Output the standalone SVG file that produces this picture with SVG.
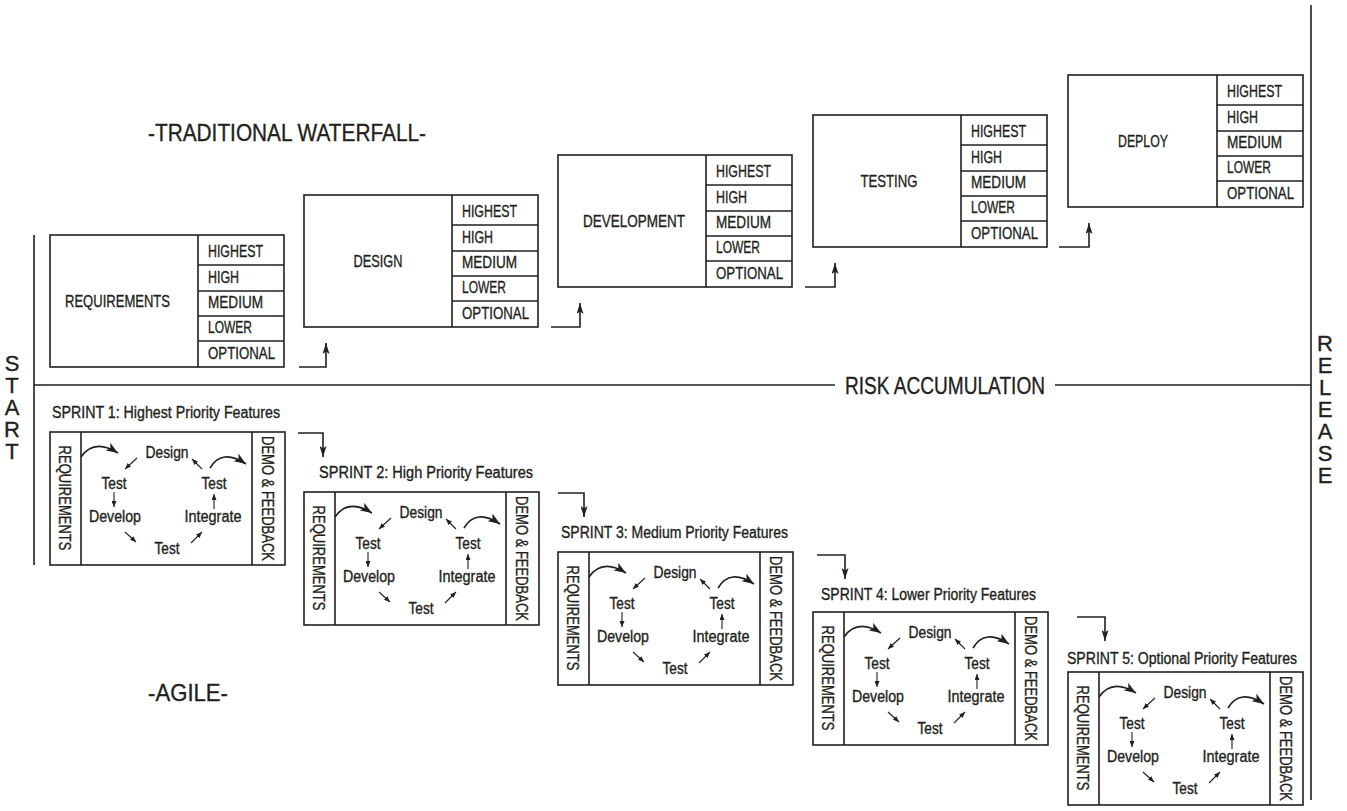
<svg xmlns="http://www.w3.org/2000/svg" width="1347" height="811" viewBox="0 0 1347 811">
<style>
.bx{fill:#fff;stroke:#231f20;stroke-width:1.6}
.ln{fill:none;stroke:#231f20;stroke-width:1.6}
.sl{fill:none;stroke:#231f20;stroke-width:1.1}
.t{font-family:"Liberation Sans",Arial,sans-serif;fill:#231f20;stroke:#231f20;stroke-width:0.35}
.w{font-size:17px}
.s{font-size:16px}
.v{font-size:17px}
.big{font-size:24px}
.mid{text-anchor:middle}
.vert{font-size:22px;writing-mode:vertical-rl;text-orientation:upright;letter-spacing:-3px}
</style>
<defs>
<marker id="ka" viewBox="0 0 11 7" refX="11" refY="3.5" markerWidth="11" markerHeight="7" markerUnits="userSpaceOnUse" orient="auto"><path d="M0,0 L11,3.5 L0,7 L2.5,3.5 Z" fill="#231f20"/></marker>
<marker id="sa" viewBox="0 0 6 5" refX="6" refY="2.5" markerWidth="6" markerHeight="5" markerUnits="userSpaceOnUse" orient="auto"><path d="M0,0 L6,2.5 L0,5 Z" fill="#231f20"/></marker>
<marker id="ca" viewBox="0 0 12 9" refX="12" refY="4.5" markerWidth="12" markerHeight="9" markerUnits="userSpaceOnUse" orient="auto"><path d="M0,0 L12,4.5 L0,9 L3,4.5 Z" fill="#231f20"/></marker>
</defs>
<rect width="1347" height="811" fill="#fff"/>

<g id="axes">
<line class="ln" x1="34" y1="235" x2="34" y2="565"/>
<line class="ln" x1="1311" y1="5" x2="1311" y2="800" stroke-width="2"/>
<line class="ln" x1="34" y1="385" x2="835" y2="385"/>
<line class="ln" x1="1055" y1="385" x2="1311" y2="385"/>
<text class="t big" x="845" y="393.5" textLength="200" lengthAdjust="spacingAndGlyphs">RISK ACCUMULATION</text>
</g>

<g id="start-label">
<text class="t vert" x="12" y="351">START</text>
</g>
<g id="release-label">
<text class="t vert" x="1325" y="331">RELEASE</text>
</g>

<g id="titles">
<text class="t big" x="148" y="141" textLength="278" lengthAdjust="spacingAndGlyphs">-TRADITIONAL WATERFALL-</text>
<text class="t big" x="148" y="701" textLength="80" lengthAdjust="spacingAndGlyphs">-AGILE-</text>
</g>

<!-- Waterfall phases -->
<g id="wf-requirements" transform="translate(50,235)">
<rect class="bx" x="0" y="0" width="234" height="132"/>
<path class="ln" d="M148,0V132M148,30H234M148,56H234M148,81H234M148,106H234"/>
<text class="t w mid" x="67.5" y="72" textLength="105" lengthAdjust="spacingAndGlyphs">REQUIREMENTS</text>
<text class="t w" x="158" y="22" textLength="55" lengthAdjust="spacingAndGlyphs">HIGHEST</text>
<text class="t w" x="158" y="48" textLength="31" lengthAdjust="spacingAndGlyphs">HIGH</text>
<text class="t w" x="158" y="73" textLength="55" lengthAdjust="spacingAndGlyphs">MEDIUM</text>
<text class="t w" x="158" y="98" textLength="44" lengthAdjust="spacingAndGlyphs">LOWER</text>
<text class="t w" x="158" y="124" textLength="67" lengthAdjust="spacingAndGlyphs">OPTIONAL</text>
</g>
<g id="wf-design" transform="translate(304,195)">
<rect class="bx" x="0" y="0" width="234" height="132"/>
<path class="ln" d="M148,0V132M148,30H234M148,56H234M148,81H234M148,106H234"/>
<text class="t w mid" x="74" y="72" textLength="49" lengthAdjust="spacingAndGlyphs">DESIGN</text>
<text class="t w" x="158" y="22" textLength="55" lengthAdjust="spacingAndGlyphs">HIGHEST</text>
<text class="t w" x="158" y="48" textLength="31" lengthAdjust="spacingAndGlyphs">HIGH</text>
<text class="t w" x="158" y="73" textLength="55" lengthAdjust="spacingAndGlyphs">MEDIUM</text>
<text class="t w" x="158" y="98" textLength="44" lengthAdjust="spacingAndGlyphs">LOWER</text>
<text class="t w" x="158" y="124" textLength="67" lengthAdjust="spacingAndGlyphs">OPTIONAL</text>
</g>
<g id="wf-development" transform="translate(558,155)">
<rect class="bx" x="0" y="0" width="234" height="132"/>
<path class="ln" d="M148,0V132M148,30H234M148,56H234M148,81H234M148,106H234"/>
<text class="t w mid" x="76" y="72" textLength="102" lengthAdjust="spacingAndGlyphs">DEVELOPMENT</text>
<text class="t w" x="158" y="22" textLength="55" lengthAdjust="spacingAndGlyphs">HIGHEST</text>
<text class="t w" x="158" y="48" textLength="31" lengthAdjust="spacingAndGlyphs">HIGH</text>
<text class="t w" x="158" y="73" textLength="55" lengthAdjust="spacingAndGlyphs">MEDIUM</text>
<text class="t w" x="158" y="98" textLength="44" lengthAdjust="spacingAndGlyphs">LOWER</text>
<text class="t w" x="158" y="124" textLength="67" lengthAdjust="spacingAndGlyphs">OPTIONAL</text>
</g>
<g id="wf-testing" transform="translate(813,115)">
<rect class="bx" x="0" y="0" width="234" height="132"/>
<path class="ln" d="M148,0V132M148,30H234M148,56H234M148,81H234M148,106H234"/>
<text class="t w mid" x="76" y="72" textLength="57" lengthAdjust="spacingAndGlyphs">TESTING</text>
<text class="t w" x="158" y="22" textLength="55" lengthAdjust="spacingAndGlyphs">HIGHEST</text>
<text class="t w" x="158" y="48" textLength="31" lengthAdjust="spacingAndGlyphs">HIGH</text>
<text class="t w" x="158" y="73" textLength="55" lengthAdjust="spacingAndGlyphs">MEDIUM</text>
<text class="t w" x="158" y="98" textLength="44" lengthAdjust="spacingAndGlyphs">LOWER</text>
<text class="t w" x="158" y="124" textLength="67" lengthAdjust="spacingAndGlyphs">OPTIONAL</text>
</g>
<g id="wf-deploy" transform="translate(1068,75)">
<rect class="bx" x="0" y="0" width="235" height="132"/>
<path class="ln" d="M149,0V132M149,30H235M149,56H235M149,81H235M149,106H235"/>
<text class="t w mid" x="75" y="72" textLength="50" lengthAdjust="spacingAndGlyphs">DEPLOY</text>
<text class="t w" x="159" y="22" textLength="55" lengthAdjust="spacingAndGlyphs">HIGHEST</text>
<text class="t w" x="159" y="48" textLength="31" lengthAdjust="spacingAndGlyphs">HIGH</text>
<text class="t w" x="159" y="73" textLength="55" lengthAdjust="spacingAndGlyphs">MEDIUM</text>
<text class="t w" x="159" y="98" textLength="44" lengthAdjust="spacingAndGlyphs">LOWER</text>
<text class="t w" x="159" y="124" textLength="67" lengthAdjust="spacingAndGlyphs">OPTIONAL</text>
</g>

<!-- Sprints -->
<g id="sprint-1" transform="translate(50,432)">
<text class="t s" x="2" y="-14" textLength="228" lengthAdjust="spacingAndGlyphs">SPRINT 1: Highest Priority Features</text>
<rect class="bx" x="0" y="0" width="235" height="133"/>
<path class="ln" d="M31,0V133M202,0V133"/>
<text class="t v mid" transform="translate(15.5,66) rotate(90) scale(0.767,1)" x="0" y="6">REQUIREMENTS</text>
<text class="t v mid" transform="translate(218.5,66.5) rotate(90) scale(0.765,1)" x="0" y="6">DEMO &amp; FEEDBACK</text>
<text class="t s mid" x="117" y="26" textLength="43" lengthAdjust="spacingAndGlyphs">Design</text>
<text class="t s mid" x="64" y="57" textLength="25" lengthAdjust="spacingAndGlyphs">Test</text>
<text class="t s mid" x="65" y="90" textLength="52" lengthAdjust="spacingAndGlyphs">Develop</text>
<text class="t s mid" x="117" y="122" textLength="25" lengthAdjust="spacingAndGlyphs">Test</text>
<text class="t s mid" x="163" y="90" textLength="57" lengthAdjust="spacingAndGlyphs">Integrate</text>
<text class="t s mid" x="164" y="57" textLength="25" lengthAdjust="spacingAndGlyphs">Test</text>
<path class="sl" marker-end="url(#sa)" d="M87,26L75,37"/>
<path class="sl" marker-end="url(#sa)" d="M64,60V75"/>
<path class="sl" marker-end="url(#sa)" d="M75,100L86,110"/>
<path class="sl" marker-end="url(#sa)" d="M141,111L152,100"/>
<path class="sl" marker-end="url(#sa)" d="M164,77V62"/>
<path class="sl" marker-end="url(#sa)" d="M152,37L142,27"/>
<path class="ln" marker-end="url(#ca)" d="M31,25Q44,6 68,21"/>
<path class="ln" marker-end="url(#ca)" d="M160,36Q172,16 196,32"/>
</g>
<g id="sprint-2" transform="translate(304,492)">
<text class="t s" x="15" y="-14" textLength="214" lengthAdjust="spacingAndGlyphs">SPRINT 2: High Priority Features</text>
<rect class="bx" x="0" y="0" width="235" height="133"/>
<path class="ln" d="M31,0V133M202,0V133"/>
<text class="t v mid" transform="translate(15.5,66) rotate(90) scale(0.767,1)" x="0" y="6">REQUIREMENTS</text>
<text class="t v mid" transform="translate(218.5,66.5) rotate(90) scale(0.765,1)" x="0" y="6">DEMO &amp; FEEDBACK</text>
<text class="t s mid" x="117" y="26" textLength="43" lengthAdjust="spacingAndGlyphs">Design</text>
<text class="t s mid" x="64" y="57" textLength="25" lengthAdjust="spacingAndGlyphs">Test</text>
<text class="t s mid" x="65" y="90" textLength="52" lengthAdjust="spacingAndGlyphs">Develop</text>
<text class="t s mid" x="117" y="122" textLength="25" lengthAdjust="spacingAndGlyphs">Test</text>
<text class="t s mid" x="163" y="90" textLength="57" lengthAdjust="spacingAndGlyphs">Integrate</text>
<text class="t s mid" x="164" y="57" textLength="25" lengthAdjust="spacingAndGlyphs">Test</text>
<path class="sl" marker-end="url(#sa)" d="M87,26L75,37"/>
<path class="sl" marker-end="url(#sa)" d="M64,60V75"/>
<path class="sl" marker-end="url(#sa)" d="M75,100L86,110"/>
<path class="sl" marker-end="url(#sa)" d="M141,111L152,100"/>
<path class="sl" marker-end="url(#sa)" d="M164,77V62"/>
<path class="sl" marker-end="url(#sa)" d="M152,37L142,27"/>
<path class="ln" marker-end="url(#ca)" d="M31,25Q44,6 68,21"/>
<path class="ln" marker-end="url(#ca)" d="M160,36Q172,16 196,32"/>
</g>
<g id="sprint-3" transform="translate(558,552)">
<text class="t s" x="3" y="-14" textLength="227" lengthAdjust="spacingAndGlyphs">SPRINT 3: Medium Priority Features</text>
<rect class="bx" x="0" y="0" width="235" height="133"/>
<path class="ln" d="M31,0V133M202,0V133"/>
<text class="t v mid" transform="translate(15.5,66) rotate(90) scale(0.767,1)" x="0" y="6">REQUIREMENTS</text>
<text class="t v mid" transform="translate(218.5,66.5) rotate(90) scale(0.765,1)" x="0" y="6">DEMO &amp; FEEDBACK</text>
<text class="t s mid" x="117" y="26" textLength="43" lengthAdjust="spacingAndGlyphs">Design</text>
<text class="t s mid" x="64" y="57" textLength="25" lengthAdjust="spacingAndGlyphs">Test</text>
<text class="t s mid" x="65" y="90" textLength="52" lengthAdjust="spacingAndGlyphs">Develop</text>
<text class="t s mid" x="117" y="122" textLength="25" lengthAdjust="spacingAndGlyphs">Test</text>
<text class="t s mid" x="163" y="90" textLength="57" lengthAdjust="spacingAndGlyphs">Integrate</text>
<text class="t s mid" x="164" y="57" textLength="25" lengthAdjust="spacingAndGlyphs">Test</text>
<path class="sl" marker-end="url(#sa)" d="M87,26L75,37"/>
<path class="sl" marker-end="url(#sa)" d="M64,60V75"/>
<path class="sl" marker-end="url(#sa)" d="M75,100L86,110"/>
<path class="sl" marker-end="url(#sa)" d="M141,111L152,100"/>
<path class="sl" marker-end="url(#sa)" d="M164,77V62"/>
<path class="sl" marker-end="url(#sa)" d="M152,37L142,27"/>
<path class="ln" marker-end="url(#ca)" d="M31,25Q44,6 68,21"/>
<path class="ln" marker-end="url(#ca)" d="M160,36Q172,16 196,32"/>
</g>
<g id="sprint-4" transform="translate(813,612)">
<text class="t s" x="8" y="-12" textLength="215" lengthAdjust="spacingAndGlyphs">SPRINT 4: Lower Priority Features</text>
<rect class="bx" x="0" y="0" width="235" height="133"/>
<path class="ln" d="M31,0V133M202,0V133"/>
<text class="t v mid" transform="translate(15.5,66) rotate(90) scale(0.767,1)" x="0" y="6">REQUIREMENTS</text>
<text class="t v mid" transform="translate(218.5,66.5) rotate(90) scale(0.765,1)" x="0" y="6">DEMO &amp; FEEDBACK</text>
<text class="t s mid" x="117" y="26" textLength="43" lengthAdjust="spacingAndGlyphs">Design</text>
<text class="t s mid" x="64" y="57" textLength="25" lengthAdjust="spacingAndGlyphs">Test</text>
<text class="t s mid" x="65" y="90" textLength="52" lengthAdjust="spacingAndGlyphs">Develop</text>
<text class="t s mid" x="117" y="122" textLength="25" lengthAdjust="spacingAndGlyphs">Test</text>
<text class="t s mid" x="163" y="90" textLength="57" lengthAdjust="spacingAndGlyphs">Integrate</text>
<text class="t s mid" x="164" y="57" textLength="25" lengthAdjust="spacingAndGlyphs">Test</text>
<path class="sl" marker-end="url(#sa)" d="M87,26L75,37"/>
<path class="sl" marker-end="url(#sa)" d="M64,60V75"/>
<path class="sl" marker-end="url(#sa)" d="M75,100L86,110"/>
<path class="sl" marker-end="url(#sa)" d="M141,111L152,100"/>
<path class="sl" marker-end="url(#sa)" d="M164,77V62"/>
<path class="sl" marker-end="url(#sa)" d="M152,37L142,27"/>
<path class="ln" marker-end="url(#ca)" d="M31,25Q44,6 68,21"/>
<path class="ln" marker-end="url(#ca)" d="M160,36Q172,16 196,32"/>
</g>
<g id="sprint-5" transform="translate(1068,672)">
<text class="t s" x="-1" y="-8" textLength="230" lengthAdjust="spacingAndGlyphs">SPRINT 5: Optional Priority Features</text>
<rect class="bx" x="0" y="0" width="235" height="133"/>
<path class="ln" d="M31,0V133M202,0V133"/>
<text class="t v mid" transform="translate(15.5,66) rotate(90) scale(0.767,1)" x="0" y="6">REQUIREMENTS</text>
<text class="t v mid" transform="translate(218.5,66.5) rotate(90) scale(0.765,1)" x="0" y="6">DEMO &amp; FEEDBACK</text>
<text class="t s mid" x="117" y="26" textLength="43" lengthAdjust="spacingAndGlyphs">Design</text>
<text class="t s mid" x="64" y="57" textLength="25" lengthAdjust="spacingAndGlyphs">Test</text>
<text class="t s mid" x="65" y="90" textLength="52" lengthAdjust="spacingAndGlyphs">Develop</text>
<text class="t s mid" x="117" y="122" textLength="25" lengthAdjust="spacingAndGlyphs">Test</text>
<text class="t s mid" x="163" y="90" textLength="57" lengthAdjust="spacingAndGlyphs">Integrate</text>
<text class="t s mid" x="164" y="57" textLength="25" lengthAdjust="spacingAndGlyphs">Test</text>
<path class="sl" marker-end="url(#sa)" d="M87,26L75,37"/>
<path class="sl" marker-end="url(#sa)" d="M64,60V75"/>
<path class="sl" marker-end="url(#sa)" d="M75,100L86,110"/>
<path class="sl" marker-end="url(#sa)" d="M141,111L152,100"/>
<path class="sl" marker-end="url(#sa)" d="M164,77V62"/>
<path class="sl" marker-end="url(#sa)" d="M152,37L142,27"/>
<path class="ln" marker-end="url(#ca)" d="M31,25Q44,6 68,21"/>
<path class="ln" marker-end="url(#ca)" d="M160,36Q172,16 196,32"/>
</g>

<g id="connectors">
<path class="ln" marker-end="url(#ka)" d="M299,367H326V343"/>
<path class="ln" marker-end="url(#ka)" d="M551,327H580V303"/>
<path class="ln" marker-end="url(#ka)" d="M805,287H835V263"/>
<path class="ln" marker-end="url(#ka)" d="M1059,247H1089V223"/>
<path class="ln" marker-end="url(#ka)" d="M298,433H323V457"/>
<path class="ln" marker-end="url(#ka)" d="M558,493H584V517"/>
<path class="ln" marker-end="url(#ka)" d="M817,555H845V579"/>
<path class="ln" marker-end="url(#ka)" d="M1077,617H1105V641"/>
</g>
</svg>
